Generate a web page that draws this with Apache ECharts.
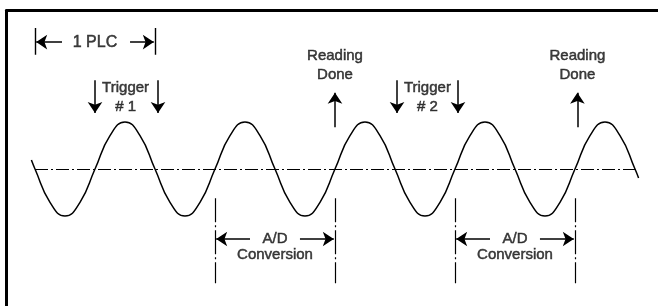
<!DOCTYPE html>
<html>
<head>
<meta charset="utf-8">
<script src="https://cdn.jsdelivr.net/npm/echarts@6/dist/echarts.min.js"></script>
<style>
  html, body { margin: 0; padding: 0; background: #fff; }
  #chart1 { width: 658px; height: 306px; }
</style>
</head>
<body>
<div id="chart1"></div>
<script>
var chart1 = echarts.init(document.getElementById('chart1'));

// x in PLC (one line cycle), y in wave amplitude
var wave = [
	[-0.53, 0.19],
	[-0.5, 0], [-0.375, -0.71], [-0.25, -1], [-0.125, -0.71],
	[0, 0], [0.125, 0.71], [0.25, 1], [0.375, 0.71],
	[0.5, 0], [0.625, -0.71], [0.75, -1], [0.875, -0.71],
	[1, 0], [1.125, 0.71], [1.25, 1], [1.375, 0.71],
	[1.5, 0], [1.625, -0.71], [1.75, -1], [1.875, -0.71],
	[2, 0], [2.125, 0.71], [2.25, 1], [2.375, 0.71],
	[2.5, 0], [2.625, -0.71], [2.75, -1], [2.875, -0.71],
	[3, 0], [3.125, 0.71], [3.25, 1], [3.375, 0.71],
	[3.5, 0], [3.625, -0.71], [3.75, -1], [3.875, -0.71],
	[4, 0], [4.125, 0.71], [4.25, 1], [4.375, 0.71],
	[4.5, 0], [4.53, -0.19]
];

var centerLine = [[-0.5, 0], [4.52, 0]];
var conversionMarks = [1, 2, 3, 4];   // dash-dot verticals at A/D start / end
var conversionSpan = [-0.62, -2.43];

var plcBars = [-0.5, 0.5];
var plcSpan = [2.43, 3.0];

// arrows: [fromX, fromY, toX, toY] (head at "to")
var arrows = [
	[-0.275, 2.70, -0.49, 2.70],
	[0.292, 2.70, 0.49, 2.70],
	[0, 1.89, 0, 1.19],
	[0.525, 1.89, 0.525, 1.19],
	[2.517, 1.89, 2.517, 1.19],
	[3.025, 1.89, 3.025, 1.19],
	[2, 0.89, 2, 1.62],
	[4.02, 0.89, 4.02, 1.62],
	[1.292, -1.49, 1.01, -1.49],
	[1.708, -1.49, 1.99, -1.49],
	[3.292, -1.49, 3.01, -1.49],
	[3.708, -1.49, 3.99, -1.49]
];

var labels = [
	['1 PLC', 0, 2.70, 16],
	['Trigger\n# 1', 0.255, 1.52, 15],
	['Trigger\n# 2', 2.77, 1.52, 15],
	['Reading\nDone', 2.0, 2.20, 15],
	['Reading\nDone', 4.02, 2.20, 15],
	['A/D', 1.5, -1.49, 15],
	['Conversion', 1.5, -1.83, 15],
	['A/D', 3.5, -1.49, 15],
	['Conversion', 3.5, -1.83, 15]
];

var verticalLines = conversionMarks.map(function (x) {
	return { coords: [[x, conversionSpan[0]], [x, conversionSpan[1]]] };
});
var barLines = plcBars.map(function (x) {
	return { coords: [[x, plcSpan[0]], [x, plcSpan[1]]] };
});
var arrowLines = arrows.map(function (a) {
	return { coords: [[a[0], a[1]], [a[2], a[3]]] };
});

var option = {
	animation: false,
	backgroundColor: '#fff',
	grid: {
		left: 6.5,
		top: 10.5,
		right: 0,
		bottom: 0
	},
	xAxis: {
		type: 'value',
		position: 'top',
		min: -0.7375,
		max: 4.6917,
		axisLine: {
			onZero: false,
			lineStyle: { color: '#000', width: 3 }
		},
		axisTick: { show: false },
		axisLabel: { show: false },
		splitLine: { show: false }
	},
	yAxis: {
		type: 'value',
		min: -2.9149,
		max: 3.3723,
		axisLine: {
			show: true,
			onZero: false,
			lineStyle: { color: '#000', width: 3 }
		},
		axisTick: { show: false },
		axisLabel: { show: false },
		splitLine: { show: false }
	},
	series: [{
		type: 'line',
		data: wave,
		smooth: 0.5,
		showSymbol: false,
		clip: false,
		lineStyle: { color: '#000', width: 1.5 }
	}, {
		type: 'lines',
		coordinateSystem: 'cartesian2d',
		data: [{ coords: centerLine }],
		lineStyle: { color: '#000', width: 1.2, type: [13, 3, 2, 3], opacity: 1 }
	}, {
		type: 'lines',
		coordinateSystem: 'cartesian2d',
		data: verticalLines,
		lineStyle: { color: '#000', width: 1.2, type: [24, 3, 2, 3], opacity: 1 }
	}, {
		type: 'lines',
		coordinateSystem: 'cartesian2d',
		data: barLines,
		lineStyle: { color: '#000', width: 1.4, opacity: 1 }
	}, {
		type: 'lines',
		coordinateSystem: 'cartesian2d',
		data: arrowLines,
		symbol: ['none', 'arrow'],
		symbolSize: [7, 11],
		lineStyle: { color: '#000', width: 1.5, opacity: 1 }
	}, {
		type: 'scatter',
		symbolSize: 0,
		clip: false,
		data: labels.map(function (l) {
			return { name: l[0], value: [l[1], l[2]], label: { fontSize: l[3] } };
		}),
		label: {
			show: true,
			position: 'inside',
			formatter: '{b}',
			color: '#111',
			textBorderColor: '#111',
			textBorderWidth: 0.5,
			fontSize: 15,
			lineHeight: 19,
			fontFamily: 'Liberation Sans, Arial, sans-serif'
		}
	}]
};
chart1.setOption(option);
</script>
</body>
</html>
